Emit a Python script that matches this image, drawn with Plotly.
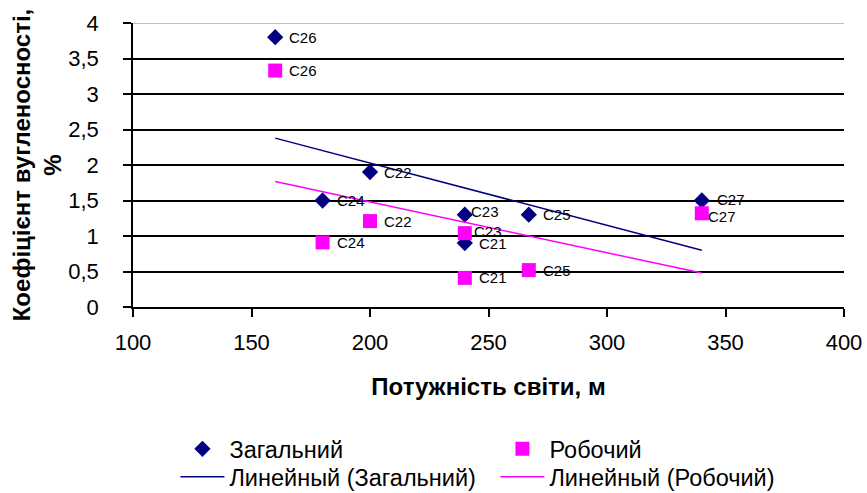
import numpy as np
import plotly.graph_objects as go

# ---- data ----
suites = ["C21", "C22", "C23", "C24", "C25", "C26", "C27"]
thickness = [240, 200, 240, 180, 267, 160, 340]          # Потужність світи, м
coef_total = [0.9, 1.9, 1.3, 1.5, 1.3, 3.8, 1.5]          # Загальний
coef_work = [0.41, 1.21, 1.04, 0.91, 0.52, 3.33, 1.32]    # Робочий

x_ticks = [100, 150, 200, 250, 300, 350, 400]
y_ticks = [0, 0.5, 1, 1.5, 2, 2.5, 3, 3.5, 4]

# label offsets (style only)
shift_total = {"C23": (4, 3), "C27": (13, 1)}
shift_work = {"C23": (7, 2), "C27": (4, -3)}

NAVY = "#000080"
MAG = "#FF00FF"
FONT = "Liberation Sans, Arial, sans-serif"
H = 493

fig = go.Figure()

fig.add_trace(go.Scatter(
    x=thickness, y=coef_total, mode="markers", name="Загальний",
    marker=dict(symbol="diamond", size=12.5, color=NAVY), legend="legend"))
fig.add_trace(go.Scatter(
    x=thickness, y=coef_work, mode="markers", name="Робочий",
    marker=dict(symbol="square", size=14, color=MAG), legend="legend"))

# linear trendlines (least squares, as in Excel)
xs = np.array(thickness, dtype=float)
xr = np.array([xs.min(), xs.max()])
for ys, col, nm in [(coef_total, NAVY, "Линейный (Загальний)"),
                    (coef_work, MAG, "Линейный (Робочий)")]:
    k, b = np.polyfit(xs, np.array(ys, dtype=float), 1)
    fig.add_trace(go.Scatter(x=xr, y=k * xr + b, mode="lines", name=nm,
                             line=dict(color=col, width=1.5), legend="legend2"))

annotations = []
for s, x, y in zip(suites, thickness, coef_total):
    dx, dy = shift_total.get(s, (12, 0))
    annotations.append(dict(x=x, y=y, text=s, showarrow=False, xanchor="left",
                            yanchor="middle", xshift=dx, yshift=dy,
                            font=dict(size=15, color="black", family=FONT)))
for s, x, y in zip(suites, thickness, coef_work):
    dx, dy = shift_work.get(s, (12, 0))
    annotations.append(dict(x=x, y=y, text=s, showarrow=False, xanchor="left",
                            yanchor="middle", xshift=dx, yshift=dy,
                            font=dict(size=15, color="black", family=FONT)))

LX = 0.085 - 18 / 711

fig.update_layout(
    width=867, height=H, autosize=False,
    margin=dict(l=133, r=23, t=23, b=186),
    paper_bgcolor="white", plot_bgcolor="white",
    separators=", ",
    font=dict(family=FONT, size=22, color="black"),
    annotations=annotations,
    xaxis=dict(range=[100, 400], tickvals=x_ticks, showgrid=False, zeroline=False,
               showline=True, linecolor="black", linewidth=1.5,
               ticks="outside", ticklen=8, tickwidth=1.5, tickcolor="black",
               ticklabelstandoff=7, automargin=False,
               tickfont=dict(size=22),
               title=dict(text="<b>Потужність світи, м</b>", font=dict(size=24),
                          standoff=24)),
    yaxis=dict(range=[0, 4], tickvals=y_ticks, showgrid=True, gridcolor="black",
               gridwidth=1.5, zeroline=False,
               showline=True, linecolor="black", linewidth=1.5,
               ticks="outside", ticklen=8, tickwidth=1.5, tickcolor="black",
               ticklabelstandoff=20, automargin=False,
               tickfont=dict(size=22),
               title=dict(text="<b>Коефіцієнт вугленосності,<br>%</b>",
                          font=dict(size=24), standoff=0)),
    shapes=[dict(type="line", xref="paper", yref="y", x0=0, x1=1, y0=4, y1=4,
                 line=dict(color="#c0c0c0", width=2), layer="above")],
    legend=dict(orientation="h", x=LX, xanchor="left", y=1 - 449 / H,
                yref="container", yanchor="middle", entrywidth=261,
                entrywidthmode="pixels", font=dict(size=23.5), itemwidth=44,
                bgcolor="rgba(0,0,0,0)"),
    legend2=dict(orientation="h", x=LX, xanchor="left", y=1 - 477 / H,
                 yref="container", yanchor="middle", entrywidth=261,
                 entrywidthmode="pixels", font=dict(size=23.5), itemwidth=44,
                 bgcolor="rgba(0,0,0,0)"),
)

fig.write_html("out.html", config={"displayModeBar": False},
               post_script="document.body.style.margin='0';")
